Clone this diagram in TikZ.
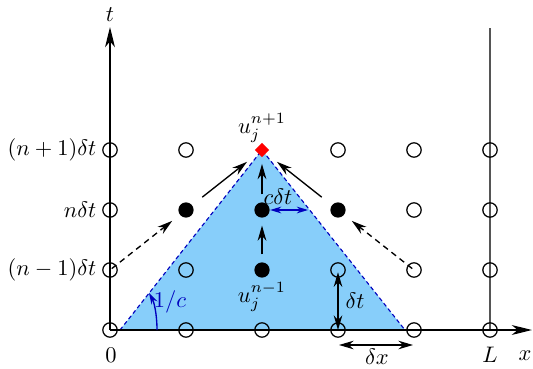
\documentclass[tikz,border=0pt]{standalone}
\usetikzlibrary{arrows.meta,shapes.geometric}
\definecolor{conefill}{RGB}{135,206,250}
\definecolor{darkblue}{RGB}{0,0,190}
\definecolor{axisgray}{RGB}{85,85,85}
\begin{document}
\begin{tikzpicture}[x=0.445pt,y=-0.445pt,
  open/.style={circle,draw,line width=0.55pt,inner sep=0pt,minimum size=6.4pt},
  full/.style={circle,fill=black,inner sep=0pt,minimum size=6.8pt},
  target/.style={diamond,fill=red,inner sep=0pt,minimum size=6.6pt},
  axisline/.style={line width=0.6pt,-{Stealth[length=9pt,width=4.4pt,inset=2.6pt]}},
  tipA/.style={-{Stealth[length=6.8pt,width=3.9pt,inset=2.2pt]}},
  arr/.style={line width=0.6pt,tipA},
  darr/.style={line width=0.6pt,{Stealth[length=6.5pt,width=3.8pt,inset=2.1pt]}-{Stealth[length=6.5pt,width=3.8pt,inset=2.1pt]}},
  dasharr/.style={arr,dash pattern=on 2.6pt off 2pt},
  lbl/.style={inner sep=1pt}
]
\useasboundingbox (0,0) rectangle (533,368);

% cone of dependence
\coordinate (A) at (120,330);
\coordinate (B) at (262,150);
\coordinate (C) at (405,330);
\fill[conefill] (A) -- (B) -- (C) -- cycle;
\draw[darkblue,line width=0.5pt,dash pattern=on 1.8pt off 1.3pt] (A) -- (B) -- (C);

% axes
\coordinate (O) at (110,330);
\coordinate (xend) at (532,330);
\coordinate (tend) at (110,27);
\coordinate (Lb) at (490,330);
\coordinate (Lt) at (490,28);
\draw[axisgray,line width=0.6pt] (Lb) -- (Lt);
\draw[axisline] (O) -- (xend);
\draw[axisline] (O) -- (tend);

% grid points
\foreach \c in {0,...,5} \node[open] (o0\c) at ({110+76*\c},330) {};
\foreach \c in {0,1,3,4,5} \node[open] (o1\c) at ({110+76*\c},270) {};
\foreach \c in {0,4,5} \node[open] (o2\c) at ({110+76*\c},210) {};
\foreach \c in {0,1,3,4,5} \node[open] (o3\c) at ({110+76*\c},150) {};
\node[full] (fl) at (186,210) {};
\node[full] (fc) at (262,210) {};
\node[full] (fr) at (338,210) {};
\node[full] (fb) at (262,270) {};
\node[target] (top) at (262,150) {};

% arrows
\draw[arr,shorten <=5.6pt,shorten >=6pt] (fl) -- (top);
\draw[arr,shorten <=5.6pt,shorten >=6pt] (fr) -- (top);
\draw[arr,shorten <=3.3pt,shorten >=2.7pt] (fc) -- (top);
\draw[arr,shorten <=3.3pt,shorten >=3.3pt] (fb) -- (fc);
\draw[dasharr,shorten <=1pt,shorten >=4.2pt] (o10.center) -- (fl);
\draw[dasharr,shorten <=1pt,shorten >=4.2pt] (o14.center) -- (fr);

% c delta t
\coordinate (cdt) at (308,210);
\draw[darkblue,line width=0.6pt,{Stealth[length=5pt,width=3pt,inset=1.6pt]}-{Stealth[length=5pt,width=3pt,inset=1.6pt]}] (fc.east) -- (cdt);
\node[lbl] (cdtl) at (278,197) {$c\delta t$};

% delta t
\draw[darr,shorten <=1pt] (o13.center) -- (o03.center);
\node[lbl] (dtl) at (355,301) {$\delta t$};

% delta x
\coordinate (dx1) at (339,345);
\coordinate (dx2) at (413,345);
\draw[darr] (dx1) -- (dx2);
\node[lbl] (dxl) at (377,357) {$\delta x$};

% slope arc
\coordinate (arcs) at (157,330);
\coordinate (arce) at (149,293);
\draw[darkblue,line width=0.6pt,-{Stealth[length=5pt,width=3pt,inset=1.6pt]}] (arcs) .. controls (157,314) and (154,302) .. (arce);
\node[lbl,text=darkblue] (slope) at (170,302) {$1/c$};

% axis labels
\node[lbl] (tl) at (110,15) {$t$};
\node[lbl] (xl) at (525,356) {$x$};
\node[lbl] (zl) at (111,355) {$0$};
\node[lbl] (Ll) at (490,355) {$L$};
\node[lbl,anchor=east] (r3) at (99,150) {$(n+1)\delta t$};
\node[lbl,anchor=east] (r2) at (99,210) {$n\delta t$};
\node[lbl,anchor=east] (r1) at (99,270) {$(n-1)\delta t$};

% point labels
\node[lbl] (up) at (262,128) {$u_j^{n+1}$};
\node[lbl] (um) at (262,297) {$u_j^{n-1}$};
\end{tikzpicture}
\end{document}
